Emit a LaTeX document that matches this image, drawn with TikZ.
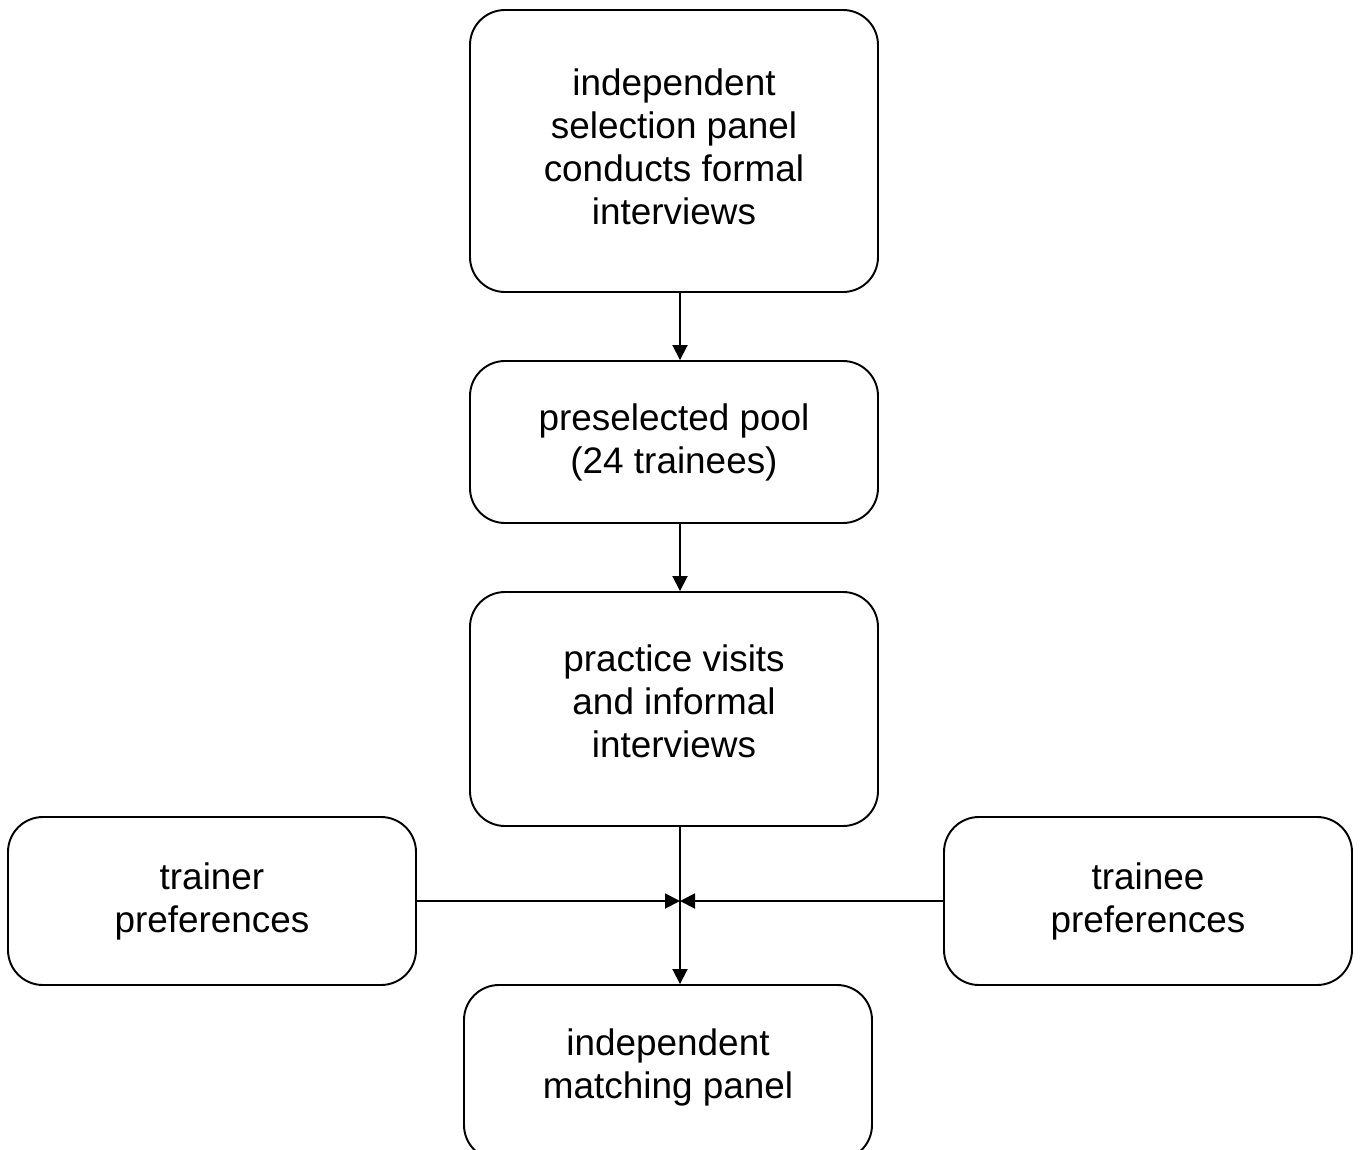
\documentclass[tikz,border=0pt]{standalone}
\usepackage{fontspec}
\setmainfont{Liberation Sans}
\usepackage{tikz}
\usetikzlibrary{arrows.meta}

% extra depth under the last line lifts the text a little
\newcommand{\liftby}[1]{\rule[-#1]{0pt}{0pt}}

\tikzset{
	stage/.style={draw,line width=1.1pt,rounded corners=0.7cm,align=center,
		minimum width=8.16cm,inner sep=0pt,font=\fontsize{21}{24.5}\selectfont},
	flow/.style={line width=1.1pt,-{Triangle[length=0.3cm,width=0.3cm]}}
}

\begin{document}
\begin{tikzpicture}
	\useasboundingbox (0,0) rectangle (27.24,-23);
	
	\node[stage,minimum height=5.64cm] (select) at (13.48,-3.02) {independent\\selection panel\\conducts formal\\interviews\liftby{0.16cm}};
	\node[stage,minimum height=3.24cm] (pool) at (13.48,-8.84) {preselected pool\\(24 trainees)};
	\node[stage,minimum height=4.68cm] (visits) at (13.48,-14.18) {practice visits\\and informal\\interviews\liftby{0.32cm}};
	\node[stage,minimum height=3.36cm] (trainer) at (4.24,-18.02) {trainer\\preferences};
	\node[stage,minimum height=3.36cm] (trainee) at (22.96,-18.02) {trainee\\preferences};
	\node[stage,minimum height=3.5cm] (match) at (13.36,-21.45) {independent\\matching panel\liftby{0.36cm}};
	
	\coordinate (join) at (13.6,-18.02);
	
	\draw[flow] (select.south -| join) -- (pool.north -| join);
	\draw[flow] (pool.south -| join) -- (visits.north -| join);
	\draw[flow] (visits.south -| join) -- (match.north -| join);
	\draw[flow] (trainer.east) -- (join);
	\draw[flow] (trainee.west) -- (join);
\end{tikzpicture}
\end{document}
